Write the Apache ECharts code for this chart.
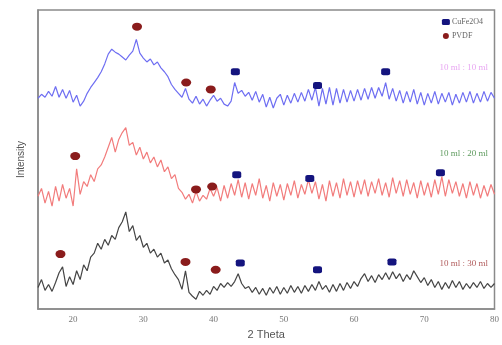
<!DOCTYPE html>
<html>
<head>
<meta charset="utf-8">
<script src="https://cdn.jsdelivr.net/npm/echarts@6/dist/echarts.min.js"></script>
<style>
  html, body { margin: 0; padding: 0; background: #fff; }
  #chart { width: 502px; height: 345px; }
</style>
</head>
<body>
<div id="chart"></div>
<script>
// 2 theta sampling grid (deg)
const angles = [
  15, 15.5, 16, 16.5, 17, 17.5, 18, 18.5, 19, 19.5, 20, 20.5, 21, 21.5, 22, 22.5, 23, 23.5, 24, 24.5,
  25, 25.5, 26, 26.5, 27, 27.5, 28, 28.5, 29, 29.5, 30, 30.5, 31, 31.5, 32, 32.5, 33, 33.5, 34, 34.5,
  35, 35.5, 36, 36.5, 37, 37.5, 38, 38.5, 39, 39.5, 40, 40.5, 41, 41.5, 42, 42.5, 43, 43.5, 44, 44.5,
  45, 45.5, 46, 46.5, 47, 47.5, 48, 48.5, 49, 49.5, 50, 50.5, 51, 51.5, 52, 52.5, 53, 53.5, 54, 54.5,
  55, 55.5, 56, 56.5, 57, 57.5, 58, 58.5, 59, 59.5, 60, 60.5, 61, 61.5, 62, 62.5, 63, 63.5, 64, 64.5,
  65, 65.5, 66, 66.5, 67, 67.5, 68, 68.5, 69, 69.5, 70, 70.5, 71, 71.5, 72, 72.5, 73, 73.5, 74, 74.5,
  75, 75.5, 76, 76.5, 77, 77.5, 78, 78.5, 79, 79.5, 80
]

// intensity (a.u., stacked) for each sample
const ratio10 = [
  215, 219, 216, 222, 217, 227, 216, 224, 215, 223, 211, 218, 207, 212, 220, 226, 231, 236, 242, 250,
  260, 265, 262, 260, 257, 254, 259, 263, 275, 261, 256, 252, 255, 249, 252, 246, 242, 237, 229, 224,
  220, 216, 225, 214, 210, 217, 209, 214, 207, 213, 218, 212, 215, 209, 207, 212, 231, 220, 223, 217,
  221, 213, 222, 211, 219, 206, 216, 205, 215, 219, 208, 218, 210, 220, 211, 221, 212, 224, 213, 226,
  207, 225, 209, 226, 208, 225, 210, 224, 211, 223, 212, 224, 213, 225, 214, 226, 215, 226, 217, 231,
  214, 225, 212, 223, 210, 222, 211, 224, 209, 221, 208, 220, 210, 222, 209, 220, 211, 221, 208, 219,
  210, 221, 211, 222, 210, 220, 211, 222, 212, 221, 215
]
const ratio20 = [
  115, 123, 108, 120, 105, 125, 110, 127, 113, 123, 105, 143, 117, 130, 125, 137, 130, 143, 147, 155,
  165, 175, 160, 173, 180, 185, 167, 170, 157, 165, 153, 160, 149, 155, 145, 152, 140, 145, 133, 137,
  123, 119, 112, 117, 108, 120, 110, 116, 112, 123, 115, 124, 110, 126, 113, 128, 116, 132, 114, 129,
  112, 128, 116, 133, 113, 126, 110, 129, 115, 127, 111, 128, 116, 131, 113, 127, 117, 132, 118, 130,
  112, 127, 110, 131, 115, 129, 113, 133, 116, 130, 114, 131, 117, 132, 115, 130, 118, 133, 116, 129,
  114, 134, 118, 131, 115, 132, 117, 129, 113, 131, 116, 129, 114, 132, 117, 135, 115, 132, 118, 130,
  115, 128, 113, 130, 116, 128, 113, 126, 115, 127, 117
]
const ratio30 = [
  22, 30, 19, 25, 18, 27, 37, 43, 23, 33, 25, 39, 30, 45, 39, 53, 57, 67, 61, 71,
  65, 75, 71, 83, 89, 99, 79, 85, 70, 75, 63, 67, 57, 61, 53, 57, 47, 50, 41, 35,
  30, 20, 39, 17, 13, 10, 18, 14, 19, 15, 23, 19, 26, 22, 27, 23, 28, 36, 26, 21,
  23, 17, 22, 15, 21, 14, 22, 16, 23, 15, 22, 16, 24, 17, 23, 16, 24, 18, 25, 19,
  28, 20, 24, 17, 25, 18, 26, 19, 27, 21, 28, 23, 31, 36, 28, 34, 27, 35, 30, 37,
  30, 38, 31, 36, 28, 35, 30, 39, 33, 27, 32, 24, 30, 22, 28, 20, 27, 21, 29, 22,
  28, 20, 26, 21, 27, 22, 28, 21, 26, 22, 26
]

// phase markers [2theta, height]
const cufe2o4Marks = [
  [43.1, 242], [54.8, 228], [64.5, 242],
  [43.3, 137], [53.7, 133], [72.3, 139],
  [43.8, 47], [54.8, 40], [65.4, 48]
]
const pvdfMarks = [
  [29.1, 288], [36.1, 231], [39.6, 224],
  [20.3, 156], [37.5, 122], [39.8, 125],
  [18.2, 56], [36.0, 48], [40.3, 40]
]

const sampleLabels = ['10 ml : 10 ml', '10 ml : 20 ml', '10 ml : 30 ml']

function pairs(vals) {
  return angles.map((a, i) => [a, vals[i]])
}

const chart = echarts.init(document.getElementById('chart'))

const lineSeries = (name, vals, color) => ({
  name: name,
  type: 'line',
  data: pairs(vals),
  showSymbol: false,
  smooth: false,
  lineStyle: { color: color, width: 1.2 },
  z: 2
})

const option = {
  animation: false,
  backgroundColor: '#fff',
  grid: {
    left: 38, right: 2, top: 10, bottom: 30,
    show: true, borderColor: '#8a8a8a', borderWidth: 1.5
  },
  xAxis: {
    type: 'value',
    min: 15, max: 80, interval: 10,
    name: '2 Theta',
    nameLocation: 'middle',
    nameGap: 20,
    nameTextStyle: { fontFamily: 'Liberation Sans', fontSize: 11, color: '#555' },
    axisLine: { lineStyle: { color: '#8a8a8a', width: 1.5 } },
    axisTick: { show: false },
    splitLine: { show: false },
    axisLabel: {
      fontFamily: 'Liberation Serif', fontSize: 9, color: '#777', margin: 6,
      customValues: [20, 30, 40, 50, 60, 70, 80]
    }
  },
  yAxis: {
    type: 'value',
    min: 0, max: 305,
    name: 'Intensity',
    nameLocation: 'middle',
    nameGap: 12,
    nameRotate: 90,
    nameTextStyle: { fontFamily: 'Liberation Sans', fontSize: 10, color: '#555' },
    axisLine: { show: true, lineStyle: { color: '#8a8a8a', width: 1.5 } },
    axisTick: { show: false },
    axisLabel: { show: false },
    splitLine: { show: false }
  },
  legend: {
    orient: 'vertical',
    right: 14, top: 13,
    itemWidth: 8, itemHeight: 6, itemGap: 6,
    data: ['CuFe2O4', 'PVDF'],
    textStyle: { fontFamily: 'Liberation Serif', fontSize: 8, color: '#666', padding: [0, 0, 0, -3] }
  },
  series: [
    lineSeries(sampleLabels[0], ratio10, '#6e6ef2'),
    lineSeries(sampleLabels[1], ratio20, '#f27c7c'),
    lineSeries(sampleLabels[2], ratio30, '#454545'),
    {
      name: 'CuFe2O4',
      type: 'scatter',
      data: cufe2o4Marks,
      symbol: 'roundRect',
      symbolSize: [9, 7],
      itemStyle: { color: '#14147e', opacity: 1 },
      z: 5
    },
    {
      name: 'PVDF',
      type: 'scatter',
      data: pvdfMarks,
      symbol: 'circle',
      symbolSize: [10, 8],
      itemStyle: { color: '#8a1c1c', opacity: 1 },
      z: 5
    }
  ],
  graphic: [
    { type: 'text', right: 14, top: 63, style: { text: sampleLabels[0], fill: '#e8a6f2', font: '9px "Liberation Serif"' } },
    { type: 'text', right: 14, top: 149, style: { text: sampleLabels[1], fill: '#5d9a5d', font: '9px "Liberation Serif"' } },
    { type: 'text', right: 14, top: 259, style: { text: sampleLabels[2], fill: '#b05a5a', font: '9px "Liberation Serif"' } }
  ]
}

chart.setOption(option)
</script>
</body>
</html>
